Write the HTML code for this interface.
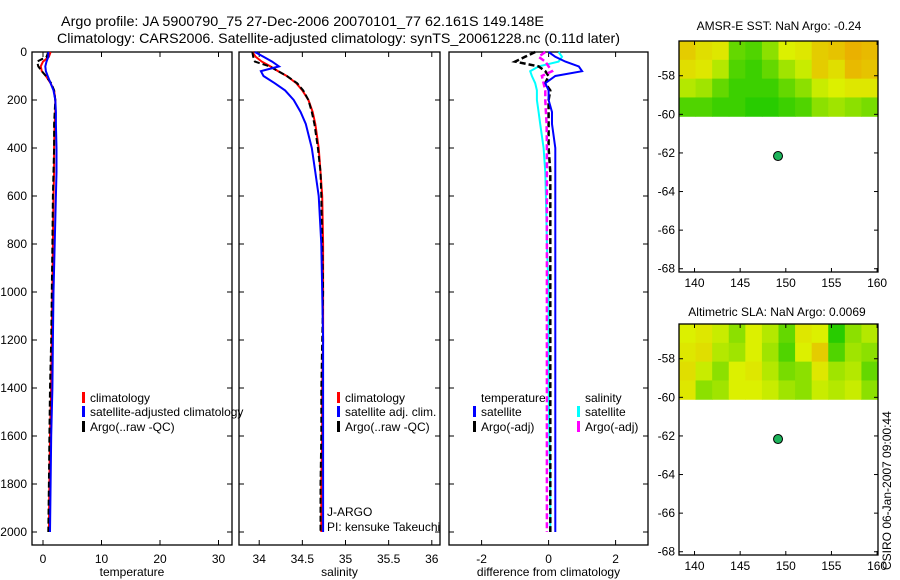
<!DOCTYPE html>
<html><head><meta charset="utf-8"><style>
html,body{margin:0;padding:0;background:#fff}
svg{display:block;font-family:"Liberation Sans",sans-serif}
</style></head><body>
<svg id="fig" width="900" height="580" viewBox="0 0 900 580" xmlns="http://www.w3.org/2000/svg">
<text x="61" y="26" font-size="14" textLength="483" lengthAdjust="spacingAndGlyphs">Argo profile: JA 5900790_75 27-Dec-2006 20070101_77 62.161S 149.148E</text>
<text x="57" y="43" font-size="14" textLength="563" lengthAdjust="spacingAndGlyphs">Climatology: CARS2006. Satellite-adjusted climatology: synTS_20061228.nc (0.11d later)</text>
<text x="779" y="30" font-size="12" text-anchor="middle">AMSR-E SST: NaN Argo: -0.24</text>
<text x="777" y="316" font-size="12" text-anchor="middle">Altimetric SLA: NaN Argo: 0.0069</text>
<text x="0" y="0" font-size="12" transform="translate(891,570) rotate(-90)">CSIRO 06-Jan-2007 09:00:44</text>
<g id="plots"></g>
</svg>
<script>
// ---- profile data ----
const depth = [0,20,40,60,80,100,130,160,200,250,300,400,500,600,800,1000,1200,1400,1600,1800,2000];
const tempClim = [1.3,1.0,0.0,-0.4,-0.2,0.5,1.3,1.9,2.1,2.1,2.0,1.9,1.9,1.8,1.7,1.6,1.5,1.4,1.2,1.1,1.0];
const tempSat  = [0.9,0.9,0.6,0.4,0.5,0.8,1.3,1.8,2.1,2.2,2.2,2.3,2.3,2.2,2.0,1.8,1.7,1.6,1.4,1.3,1.2];
const tempArgo = [0.9,0.6,-1.0,-0.8,-0.2,0.5,1.4,1.9,2.1,2.0,1.9,1.9,1.8,1.7,1.6,1.5,1.4,1.2,1.1,1.0,0.9];
const salClim  = [33.92,33.96,34.03,34.13,34.22,34.32,34.43,34.50,34.57,34.62,34.65,34.69,34.71,34.73,34.74,34.74,34.74,34.73,34.73,34.72,34.72];
const salSat   = [33.95,34.05,34.15,34.23,34.02,34.05,34.18,34.30,34.40,34.48,34.54,34.61,34.65,34.69,34.72,34.73,34.74,34.74,34.74,34.74,34.74];
const salArgo  = [33.92,33.93,33.95,34.12,34.22,34.32,34.44,34.51,34.57,34.61,34.64,34.68,34.71,34.72,34.73,34.74,34.73,34.72,34.72,34.71,34.71];
const dTempSat = [0.0,0.2,0.5,0.9,1.0,0.2,-0.1,0.0,0.0,0.1,0.1,0.2,0.2,0.2,0.2,0.2,0.2,0.2,0.2,0.2,0.2];
const dSalSat  = [0.3,0.4,0.3,-0.3,-0.55,-0.5,-0.4,-0.35,-0.35,-0.3,-0.25,-0.15,-0.1,-0.08,-0.05,0.0,0.0,0.0,0.02,0.05,0.05];
const dTempArgo= [-0.4,-0.7,-1.0,-0.3,-0.1,0.0,-0.1,0.05,0.0,0.0,0.0,0.0,0.05,0.05,0.05,0.05,0.05,0.05,0.05,0.05,0.05];
const dSalArgo = [-0.1,-0.3,-0.1,0.0,0.1,-0.2,-0.15,-0.1,-0.1,-0.08,-0.06,-0.05,-0.05,-0.05,-0.05,-0.05,-0.05,-0.05,-0.05,-0.05,-0.05];
const depthTicks = [0,200,400,600,800,1000,1200,1400,1600,1800,2000];
const tempTicks = [0,10,20,30];
const salTicks = [34,34.5,35,35.5,36];
const diffTicks = [-2,0,2];
// ---- map data ----
const sstGrid = [
 [0.7,0.6,0.55,0.2,0.15,0.3,0.5,0.55,0.7,0.75,0.85,0.8],
 [0.6,0.55,0.4,0.15,0.1,0.2,0.35,0.45,0.7,0.6,0.8,0.75],
 [0.4,0.35,0.2,0.1,0.1,0.1,0.2,0.3,0.45,0.5,0.55,0.55],
 [0.15,0.15,0.1,0.1,0.05,0.05,0.1,0.15,0.3,0.35,0.3,0.25]];
const slaGrid = [
 [0.5,0.55,0.45,0.3,0.5,0.4,0.2,0.55,0.5,0.05,0.3,0.4],
 [0.55,0.6,0.4,0.35,0.5,0.35,0.15,0.5,0.7,0.15,0.35,0.3],
 [0.6,0.45,0.3,0.5,0.55,0.4,0.25,0.3,0.55,0.35,0.4,0.2],
 [0.55,0.3,0.35,0.5,0.5,0.45,0.35,0.3,0.45,0.4,0.45,0.3]];
const lonTicks = [140,145,150,155,160];
const latTicks = [-58,-60,-62,-64,-66,-68];
const floatLon = 149.148, floatLat = -62.161;

const NS='http://www.w3.org/2000/svg';
const root=document.getElementById('plots');
function mk(tag,attrs,parent){const e=document.createElementNS(NS,tag);for(const k in attrs)e.setAttribute(k,attrs[k]);(parent||root).appendChild(e);return e;}
const yD = d => 52 + d*0.24;

function panel(name,x0,x1,xs,ticks,xlabel,labelDepth){
  const g=mk('g',{});
  
  
  const r=mk('rect',{x:x0,y:52,width:x1-x0,height:493,fill:'none',stroke:'#000','stroke-width':1.3},g);
  
  
  ticks.forEach(t=>{const x=xs(t);
    mk('line',{x1:x,x2:x,y1:545,y2:540,stroke:'#000'},g);mk('line',{x1:x,x2:x,y1:52,y2:57,stroke:'#000'},g);
    const tx=mk('text',{x:x,y:563,'font-size':12,'text-anchor':'middle'},g);tx.textContent=t;
    
    });
  depthTicks.forEach(d=>{const y=yD(d);
    mk('line',{x1:x0,x2:x0+5,y1:y,y2:y,stroke:'#000'},g);mk('line',{x1:x1-5,x2:x1,y1:y,y2:y,stroke:'#000'},g);
    if(labelDepth){const tx=mk('text',{x:27,y:y+4,'font-size':12,'text-anchor':'end'},g);tx.textContent=d;
      
      }});
  const xl=mk('text',{x:(x0+x1)/2,y:576,'font-size':12,'text-anchor':'middle'},g);xl.textContent=xlabel;
  
  
  return g;
}
function line(g,xs,vals,color,dash,name,w){
  const p=vals.map((v,i)=>xs(v).toFixed(1)+','+yD(depth[i]).toFixed(1)).join(' ');
  const e=mk('polyline',{points:p,fill:'none',stroke:color,'stroke-width':w||2,'stroke-dasharray':dash||'none'},g);
  
  
}
function legend(g,x,y,color,text,name){
  mk('rect',{x:x,y:y-10,width:3,height:11,fill:color},g);
  const t=mk('text',{x:x+8,y:y,'font-size':12},g);t.textContent=text;
  
  
}
// panel 1
const xT=t=>43+t*5.85;
const g1=panel('temperature-panel',32,232,xT,tempTicks,'temperature',true);
line(g1,xT,tempClim,'#f00',null,'temp-climatology-line');
line(g1,xT,tempArgo,'#000','6,3','temp-argo-line');
line(g1,xT,tempSat,'#00f',null,'temp-satellite-line');
legend(g1,82,402,'#f00','climatology','legend-climatology');
legend(g1,82,416,'#00f','satellite-adjusted climatology','legend-satellite');
legend(g1,82,431,'#000','Argo(..raw -QC)','legend-argo');
// panel 2
const xS=s=>259.2+(s-34)*86.3;
const g2=panel('salinity-panel',239,440,xS,salTicks,'salinity',false);
line(g2,xS,salClim,'#f00',null,'sal-climatology-line');
line(g2,xS,salArgo,'#000','6,3','sal-argo-line');
line(g2,xS,salSat,'#00f',null,'sal-satellite-line');
legend(g2,337,402,'#f00','climatology','legend2-climatology');
legend(g2,337,416,'#00f','satellite adj. clim.','legend2-satellite');
legend(g2,337,431,'#000','Argo(..raw -QC)','legend2-argo');
[['J-ARGO',516],['PI: kensuke Takeuchi',531]].forEach(a=>{const t=mk('text',{x:327,y:a[1],'font-size':12},g2);t.textContent=a[0];
  
  });
// panel 3
const xDf=d=>548.6+d*33.5;
const g3=panel('difference-panel',449,648,xDf,diffTicks,'difference from climatology',false);
line(g3,xDf,dSalSat,'#0ff',null,'diff-sal-satellite-line');
line(g3,xDf,dTempArgo,'#000','6,3','diff-temp-argo-line',2.5);
line(g3,xDf,dSalArgo,'#f0f','6,3','diff-sal-argo-line',2.5);
line(g3,xDf,dTempSat,'#00f',null,'diff-temp-satellite-line');
[['temperature',481],['salinity',585]].forEach(a=>{const t=mk('text',{x:a[1],y:402,'font-size':12},g3);t.textContent=a[0];
  
  });
legend(g3,473,416,'#00f','satellite','legend3-temp-satellite');
legend(g3,473,431,'#000','Argo(-adj)','legend3-temp-argo');
legend(g3,577,416,'#0ff','satellite','legend3-sal-satellite');
legend(g3,577,431,'#f0f','Argo(-adj)','legend3-sal-argo');

// maps
function col(v){let r,g,b;
  if(v<0.5){const t=v/0.5;r=20+200*t;g=200+40*t;b=0;}else{const t=(v-0.5)/0.5;r=220+20*t;g=240-90*t;b=0;}
  return `rgb(${r|0},${g|0},${b|0})`;}
function map(name,top,grid){
  const x0=679,x1=878,lonMin=138.3,lonMax=160.1,latTop=-56.2,bot=top+231;
  const pxLat=19.3; const xl=l=>x0+(l-lonMin)/(lonMax-lonMin)*(x1-x0); const yl=l=>top+(latTop-l)*pxLat;
  const g=mk('g',{});
  
  
  const rows=grid.length,cols=grid[0].length,cw=(x1-x0)/cols,ch=(yl(-60.1)-top)/rows;
  grid.forEach((row,i)=>row.forEach((v,j)=>{const c=mk('rect',{x:x0+j*cw,y:top+i*ch,width:cw+0.5,height:ch+0.5,fill:col(v)},g);
    
    }));
  const fr=mk('rect',{x:x0,y:top,width:x1-x0,height:bot-top,fill:'none',stroke:'#000','stroke-width':1.3},g);
  
  
  lonTicks.forEach(l=>{const x=xl(l);mk('line',{x1:x,x2:x,y1:bot,y2:bot-4,stroke:'#000'},g);mk('line',{x1:x,x2:x,y1:top,y2:top+4,stroke:'#000'},g);
    const t=mk('text',{x:x,y:bot+15,'font-size':12,'text-anchor':'middle'},g);t.textContent=l;
    
    });
  latTicks.forEach(l=>{const y=yl(l);mk('line',{x1:x0,x2:x0+4,y1:y,y2:y,stroke:'#000'},g);mk('line',{x1:x1-4,x2:x1,y1:y,y2:y,stroke:'#000'},g);
    const t=mk('text',{x:x0-4,y:y+4,'font-size':12,'text-anchor':'end'},g);t.textContent=l;
    
    });
  const d=mk('circle',{cx:xl(floatLon),cy:yl(floatLat),r:4.5,fill:'#1db35a',stroke:'#000'},g);
  
  
}
map('sst-map',41,sstGrid);
map('sla-map',324,slaGrid);
</script>
</body></html>
